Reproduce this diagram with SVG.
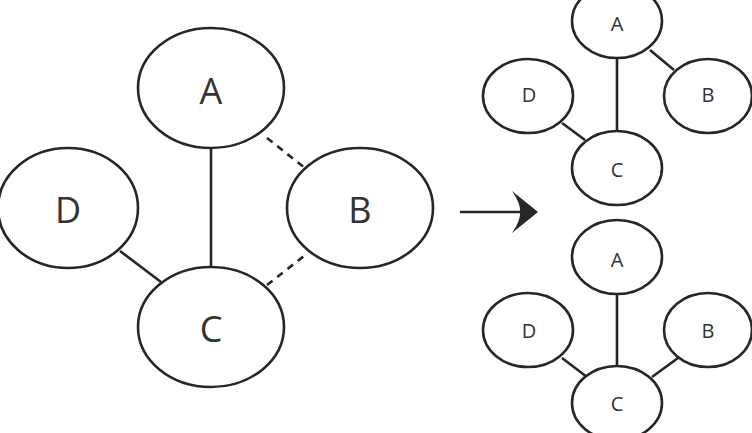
<svg xmlns="http://www.w3.org/2000/svg" width="752" height="433" viewBox="0 0 752 433">
<style>
.n{fill:#fff;stroke:#262626;stroke-width:2.6}
.e{stroke:#262626;stroke-width:2.6;fill:none}
.d{stroke-dasharray:7 6}
.tl{font-family:"Open Sans","Liberation Sans",sans-serif;font-size:36px;fill:#333;text-anchor:middle}
.ts{font-family:"Open Sans","Liberation Sans",sans-serif;font-size:20px;fill:#333;text-anchor:middle}
</style>
<rect width="752" height="433" fill="#fff"/>
<g id="edges">
<line class="e" x1="211" y1="148" x2="211" y2="267"/>
<line class="e" x1="120" y1="251" x2="161" y2="282"/>
<line class="e d" x1="267" y1="138" x2="305" y2="168"/>
<line class="e d" x1="267" y1="285" x2="304" y2="256"/>
<line class="e" x1="617" y1="59" x2="617" y2="132"/>
<line class="e" x1="562" y1="123" x2="585" y2="140"/>
<line class="e" x1="650" y1="50" x2="674" y2="70"/>
<line class="e" x1="617" y1="294" x2="617" y2="366"/>
<line class="e" x1="562" y1="358" x2="587" y2="377"/>
<line class="e" x1="652" y1="377" x2="678" y2="358"/>
<line class="e" x1="460" y1="212" x2="522" y2="212" stroke-width="3"/>
<path d="M538,212 L512,191 Q521,204 520,212 Q521,220 512,233 Z" fill="#262626"/>
</g>
<g id="L-A"><ellipse class="n" cx="211" cy="88" rx="73" ry="60"/><text class="tl" x="211" y="104">A</text></g>
<g id="L-D"><ellipse class="n" cx="68" cy="208" rx="70" ry="60"/><text class="tl" x="68" y="223">D</text></g>
<g id="L-B"><ellipse class="n" cx="360" cy="208" rx="73" ry="60"/><text class="tl" x="360" y="223">B</text></g>
<g id="L-C"><ellipse class="n" cx="211" cy="327" rx="73" ry="60"/><text class="tl" x="211" y="342">C</text></g>
<g id="T-A"><ellipse class="n" cx="617" cy="21" rx="45" ry="37"/><text class="ts" x="617" y="31">A</text></g>
<g id="T-D"><ellipse class="n" cx="528" cy="96" rx="45" ry="37"/><text class="ts" x="529" y="102">D</text></g>
<g id="T-B"><ellipse class="n" cx="708" cy="96" rx="44" ry="37"/><text class="ts" x="708" y="102">B</text></g>
<g id="T-C"><ellipse class="n" cx="617" cy="168" rx="45" ry="37"/><text class="ts" x="617" y="177">C</text></g>
<g id="B-A"><ellipse class="n" cx="617" cy="257" rx="45" ry="37"/><text class="ts" x="617" y="267">A</text></g>
<g id="B-D"><ellipse class="n" cx="528" cy="330" rx="45" ry="37"/><text class="ts" x="529" y="338">D</text></g>
<g id="B-B"><ellipse class="n" cx="708" cy="330" rx="44" ry="37"/><text class="ts" x="708" y="338">B</text></g>
<g id="B-C"><ellipse class="n" cx="617" cy="403" rx="45" ry="37"/><text class="ts" x="617" y="411">C</text></g>
</svg>
